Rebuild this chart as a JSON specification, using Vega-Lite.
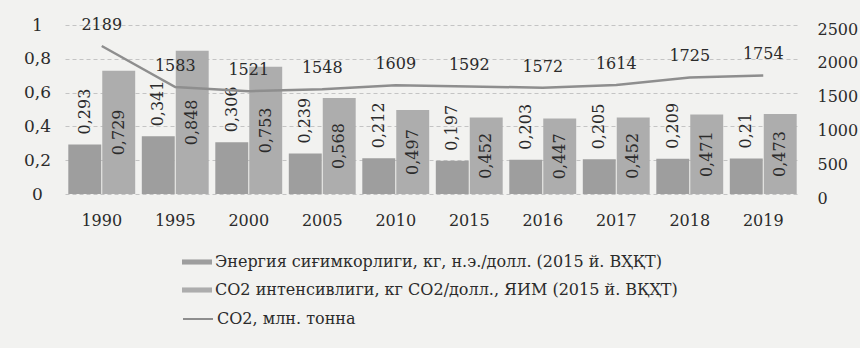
{
  "$schema": "https://vega.github.io/schema/vega-lite/v6.json",
  "width": 735,
  "height": 169,
  "autosize": {"type": "none"},
  "padding": {"left": 65, "top": 25, "right": 60, "bottom": 154},
  "background": "#f2f2f0",
  "config": {
    "locale": {"number": {"decimal": ",", "thousands": " ", "grouping": [3], "currency": ["", ""]}},
    "view": {"stroke": null},
    "font": "DejaVu Serif",
    "text": {"font": "DejaVu Serif"},
    "axis": {
      "domain": false,
      "ticks": false,
      "labelFont": "DejaVu Serif",
      "labelFontSize": 16,
      "labelColor": "#2b2b2b",
      "title": null
    },
    "legend": {
      "labelFont": "DejaVu Serif",
      "labelFontSize": 16,
      "labelColor": "#2b2b2b",
      "labelLimit": 700,
      "title": null
    }
  },
  "datasets": {
    "intensity": [
      {"year": "1990", "series": "Энергия сиғимкорлиги, кг, н.э./долл. (2015 й. ВҲҚТ)", "value": 0.293},
      {"year": "1990", "series": "CO2 интенсивлиги, кг CO2/долл., ЯИМ (2015 й. ВҚҲТ)", "value": 0.729},
      {"year": "1995", "series": "Энергия сиғимкорлиги, кг, н.э./долл. (2015 й. ВҲҚТ)", "value": 0.341},
      {"year": "1995", "series": "CO2 интенсивлиги, кг CO2/долл., ЯИМ (2015 й. ВҚҲТ)", "value": 0.848},
      {"year": "2000", "series": "Энергия сиғимкорлиги, кг, н.э./долл. (2015 й. ВҲҚТ)", "value": 0.306},
      {"year": "2000", "series": "CO2 интенсивлиги, кг CO2/долл., ЯИМ (2015 й. ВҚҲТ)", "value": 0.753},
      {"year": "2005", "series": "Энергия сиғимкорлиги, кг, н.э./долл. (2015 й. ВҲҚТ)", "value": 0.239},
      {"year": "2005", "series": "CO2 интенсивлиги, кг CO2/долл., ЯИМ (2015 й. ВҚҲТ)", "value": 0.568},
      {"year": "2010", "series": "Энергия сиғимкорлиги, кг, н.э./долл. (2015 й. ВҲҚТ)", "value": 0.212},
      {"year": "2010", "series": "CO2 интенсивлиги, кг CO2/долл., ЯИМ (2015 й. ВҚҲТ)", "value": 0.497},
      {"year": "2015", "series": "Энергия сиғимкорлиги, кг, н.э./долл. (2015 й. ВҲҚТ)", "value": 0.197},
      {"year": "2015", "series": "CO2 интенсивлиги, кг CO2/долл., ЯИМ (2015 й. ВҚҲТ)", "value": 0.452},
      {"year": "2016", "series": "Энергия сиғимкорлиги, кг, н.э./долл. (2015 й. ВҲҚТ)", "value": 0.203},
      {"year": "2016", "series": "CO2 интенсивлиги, кг CO2/долл., ЯИМ (2015 й. ВҚҲТ)", "value": 0.447},
      {"year": "2017", "series": "Энергия сиғимкорлиги, кг, н.э./долл. (2015 й. ВҲҚТ)", "value": 0.205},
      {"year": "2017", "series": "CO2 интенсивлиги, кг CO2/долл., ЯИМ (2015 й. ВҚҲТ)", "value": 0.452},
      {"year": "2018", "series": "Энергия сиғимкорлиги, кг, н.э./долл. (2015 й. ВҲҚТ)", "value": 0.209},
      {"year": "2018", "series": "CO2 интенсивлиги, кг CO2/долл., ЯИМ (2015 й. ВҚҲТ)", "value": 0.471},
      {"year": "2019", "series": "Энергия сиғимкорлиги, кг, н.э./долл. (2015 й. ВҲҚТ)", "value": 0.21},
      {"year": "2019", "series": "CO2 интенсивлиги, кг CO2/долл., ЯИМ (2015 й. ВҚҲТ)", "value": 0.473}
    ],
    "emissions": [
      {"year": "1990", "measure": "CO2, млн. тонна", "co2": 2189},
      {"year": "1995", "measure": "CO2, млн. тонна", "co2": 1583},
      {"year": "2000", "measure": "CO2, млн. тонна", "co2": 1521},
      {"year": "2005", "measure": "CO2, млн. тонна", "co2": 1548},
      {"year": "2010", "measure": "CO2, млн. тонна", "co2": 1609},
      {"year": "2015", "measure": "CO2, млн. тонна", "co2": 1592},
      {"year": "2016", "measure": "CO2, млн. тонна", "co2": 1572},
      {"year": "2017", "measure": "CO2, млн. тонна", "co2": 1614},
      {"year": "2018", "measure": "CO2, млн. тонна", "co2": 1725},
      {"year": "2019", "measure": "CO2, млн. тонна", "co2": 1754}
    ]
  },
  "encoding": {
    "x": {
      "field": "year",
      "type": "nominal",
      "sort": null,
      "scale": {"paddingInner": 0.09, "paddingOuter": 0.045},
      "axis": {"labelAngle": 0, "labelPadding": 18, "labelFontSize": 16, "grid": false}
    }
  },
  "layer": [
    {
      "data": {"name": "intensity"},
      "mark": {"type": "bar"},
      "encoding": {
        "xOffset": {
          "field": "series",
          "type": "nominal",
          "scale": {"domain": ["Энергия сиғимкорлиги, кг, н.э./долл. (2015 й. ВҲҚТ)", "CO2 интенсивлиги, кг CO2/долл., ЯИМ (2015 й. ВҚҲТ)"], "paddingInner": 0.03}
        },
        "y": {
          "field": "value",
          "type": "quantitative",
          "scale": {"domain": [0, 1]},
          "axis": {
            "orient": "left",
            "values": [0, 0.2, 0.4, 0.6, 0.8, 1],
            "format": ".1~f",
            "labelAlign": "center",
            "labelPadding": 28,
            "labelFontSize": 17,
            "grid": true,
            "gridColor": "#c4c4c4",
            "gridDash": [4, 3],
            "gridWidth": 1
          }
        },
        "fill": {
          "field": "series",
          "type": "nominal",
          "scale": {
            "domain": ["Энергия сиғимкорлиги, кг, н.э./долл. (2015 й. ВҲҚТ)", "CO2 интенсивлиги, кг CO2/долл., ЯИМ (2015 й. ВҚҲТ)"],
            "range": ["#9e9e9e", "#adadad"]
          },
          "legend": {
            "orient": "none",
            "legendX": 117,
            "legendY": 222,
            "symbolType": "M-1,-0.17H1V0.17H-1Z",
            "symbolSize": 900,
            "symbolStrokeWidth": 0,
            "labelOffset": 3,
            "rowPadding": 5
          }
        }
      }
    },
    {
      "data": {"name": "intensity"},
      "transform": [{"filter": {"field": "series", "equal": "Энергия сиғимкорлиги, кг, н.э./долл. (2015 й. ВҲҚТ)"}}],
      "mark": {"type": "text", "angle": 270, "align": "left", "baseline": "middle", "dx": 10, "fontSize": 16, "color": "#2b2b2b"},
      "encoding": {
        "xOffset": {
          "field": "series",
          "type": "nominal",
          "scale": {"domain": ["Энергия сиғимкорлиги, кг, н.э./долл. (2015 й. ВҲҚТ)", "CO2 интенсивлиги, кг CO2/долл., ЯИМ (2015 й. ВҚҲТ)"], "paddingInner": 0.03}
        },
        "y": {"field": "value", "type": "quantitative", "scale": {"domain": [0, 1]}, "axis": null},
        "text": {"field": "value", "type": "quantitative", "format": ".3~f"}
      }
    },
    {
      "data": {"name": "intensity"},
      "transform": [{"filter": {"field": "series", "equal": "CO2 интенсивлиги, кг CO2/долл., ЯИМ (2015 й. ВҚҲТ)"}}],
      "mark": {"type": "text", "angle": 270, "align": "center", "baseline": "middle", "fontSize": 16, "color": "#2b2b2b"},
      "encoding": {
        "xOffset": {
          "field": "series",
          "type": "nominal",
          "scale": {"domain": ["Энергия сиғимкорлиги, кг, н.э./долл. (2015 й. ВҲҚТ)", "CO2 интенсивлиги, кг CO2/долл., ЯИМ (2015 й. ВҚҲТ)"], "paddingInner": 0.03}
        },
        "y": {"field": "value", "type": "quantitative", "scale": {"domain": [0, 2]}, "axis": null},
        "text": {"field": "value", "type": "quantitative", "format": ".3~f"}
      }
    },
    {
      "data": {"name": "emissions"},
      "mark": {"type": "line", "strokeWidth": 2.5},
      "encoding": {
        "y": {
          "field": "co2",
          "type": "quantitative",
          "scale": {"domain": [0, 2500]},
          "axis": {
            "orient": "right",
            "values": [0, 500, 1000, 1500, 2000, 2500],
            "format": "d",
            "labelPadding": 17,
            "labelOffset": 4,
            "grid": false
          }
        },
        "stroke": {
          "field": "measure",
          "type": "nominal",
          "scale": {"range": ["#8e8e8e"]},
          "legend": {
            "orient": "none",
            "legendX": 117,
            "legendY": 278,
            "symbolType": "stroke",
            "symbolSize": 900,
            "symbolStrokeWidth": 2,
            "labelOffset": 3
          }
        }
      }
    },
    {
      "data": {"name": "emissions"},
      "mark": {"type": "text", "baseline": "middle", "align": "center", "dy": -21, "fontSize": 16, "color": "#2b2b2b"},
      "encoding": {
        "y": {"field": "co2", "type": "quantitative", "scale": {"domain": [0, 2500]}, "axis": null},
        "text": {"field": "co2", "type": "quantitative", "format": "d"}
      }
    }
  ],
  "resolve": {"scale": {"y": "independent"}, "axis": {"y": "independent"}}
}
